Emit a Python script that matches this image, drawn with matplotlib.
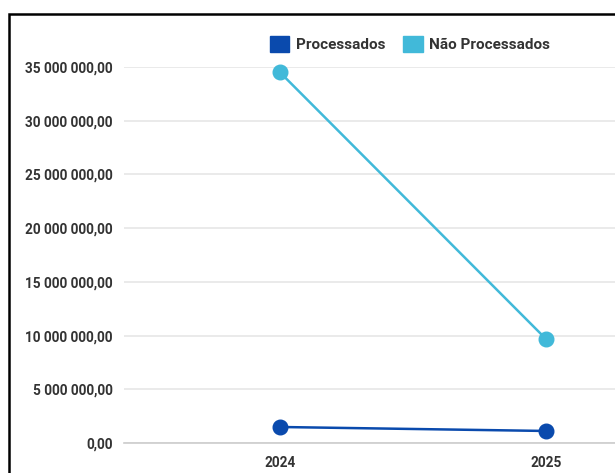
import matplotlib.pyplot as plt
from matplotlib.patches import Patch, Rectangle
from matplotlib.ticker import FuncFormatter

plt.rcParams['font.family'] = ['Roboto', 'DejaVu Sans']

anos = ['2024', '2025']
processados = [1490000, 1120000]
nao_processados = [34500000, 9680000]
cor_proc = '#0a4aad'
cor_nao = '#41b9d9'

fig = plt.figure(figsize=(6.15, 4.73), dpi=100)
W, H = 615, 473
# moldura preta (recortada à direita e embaixo)
fig.patches.append(Rectangle((8.5 / W, -0.1), 1.2, (H - 14.5) / H + 0.1,
                             transform=fig.transFigure, fill=False,
                             edgecolor='black', linewidth=1.8))

ax = fig.add_axes([124 / W, (H - 443) / H, (W - 124) / W, (443 - 67) / H])
x = list(range(len(anos)))
ax.plot(x, nao_processados, color=cor_nao, lw=1.8, marker='o', ms=10.5, clip_on=False, zorder=3)
ax.plot(x, processados, color=cor_proc, lw=1.8, marker='o', ms=10.5, clip_on=False, zorder=3)

ax.set_ylim(0, 35000000)
ax.set_yticks(range(0, 35000001, 5000000))
ax.set_xlim(-156 / 266, 1 + 69 / 266)
ax.set_xticks(x)
ax.set_xticklabels(anos)

def fmt(v, pos):
    s = '{:,.2f}'.format(v)
    return s.replace(',', ' ').replace('.', ',')
ax.yaxis.set_major_formatter(FuncFormatter(fmt))

ax.grid(axis='y', color='#e6e6e6', lw=1.2)
ax.set_axisbelow(True)
for s in ['top', 'right', 'left']:
    ax.spines[s].set_visible(False)
ax.spines['bottom'].set_color('#cccccc')
ax.spines['bottom'].set_linewidth(1.2)
ax.tick_params(length=0, labelsize=9.8, colors='#333333', pad=8)
ax.tick_params(axis='x', pad=9)
for t in ax.get_xticklabels() + ax.get_yticklabels():
    t.set_fontweight('bold')

handles = [Patch(color=cor_proc, label='Processados'),
           Patch(color=cor_nao, label='Não Processados')]
leg = fig.legend(handles=handles, loc='center', bbox_to_anchor=(410 / W, (H - 44) / H),
                 ncol=2, frameon=False, handlelength=1.25, handleheight=1.25,
                 handletextpad=0.45, columnspacing=1.2, prop={'size': 11, 'weight': 'bold'})
for t in leg.get_texts():
    t.set_color('#333333')

fig.savefig('out.png', dpi=100)
